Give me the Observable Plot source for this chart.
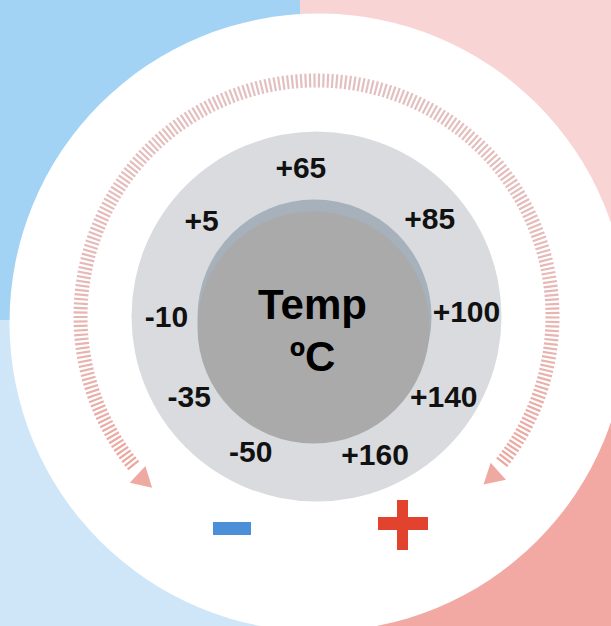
<!DOCTYPE html>
<html><head><meta charset="utf-8">
<script src="https://cdn.jsdelivr.net/npm/d3@7"></script>
<script src="https://cdn.jsdelivr.net/npm/@observablehq/plot@0.6"></script>
<style>html,body{margin:0;padding:0;background:#fff;overflow:hidden}</style>
</head><body><div id="chart"></div>
<script>
// ---- data ----
const labels = ["-50", "-35", "-10", "+5", "+65", "+85", "+100", "+140", "+160"];
const labelAngles = [-154, -122, -90, -50, -6, 49, 88, 122, 157]; // degrees, 0 = top, clockwise
const centerTitle = ["Temp", "ºC"];
const quadrantNames = ["cold-top", "cold-bottom", "hot-top", "hot-bottom"];
const quadrantColors = ["#a2d3f5", "#cfe6f8", "#f8d4d4", "#f2a9a4"];
const arrowAngles = [-133, 132];
const signs = ["−", "+"];

// ---- layout ----
const W = 611, H = 626;
const C = {x: 316, y: 316};
const quadBoxes = [
  {x1: 0, x2: 300, y1: 0, y2: 320},
  {x1: 0, x2: 300, y1: 320, y2: H},
  {x1: 300, x2: W, y1: 0, y2: 320},
  {x1: 300, x2: W, y1: 320, y2: H}
];
const quads = quadrantNames.map((n, i) => ({name: n, color: quadrantColors[i], ...quadBoxes[i]}));
const tickAngles = d3.range(-129, 129.01, 1.08);
const rad = d => d * Math.PI / 180;
const px = (a, r, c = C) => c.x + r * Math.sin(rad(a));
const py = (a, r, c = C) => c.y - r * Math.cos(rad(a));
const tickColor = a => d3.interpolateRgb("#e3c0c0", "#eca69e")(Math.pow(Math.abs(a) / 129, 2.5));

const signBars = [
  {sign: signs[0], x1: 213, x2: 251, y1: 522, y2: 535, color: "#4a8fd7"},
  {sign: signs[1], x1: 378, x2: 428, y1: 517, y2: 530, color: "#e2432f"},
  {sign: signs[1], x1: 397, x2: 408, y1: 500, y2: 550, color: "#e2432f"}
];

const plot = Plot.plot({
  width: W, height: H, margin: 0,
  x: {domain: [0, W], axis: null},
  y: {domain: [0, H], reverse: true, axis: null},
  style: {background: "transparent"},
  marks: [
    Plot.rect(quads, {x1: "x1", x2: "x2", y1: "y1", y2: "y2", fill: "color"}),
    Plot.dot([{x: 318, y: 322}], {x: "x", y: "y", r: 309, fill: "white"}),
    Plot.link(tickAngles, {
      x1: a => px(a, 229), y1: a => py(a, 229),
      x2: a => px(a, 243), y2: a => py(a, 243),
      stroke: tickColor, strokeWidth: 2.2
    }),
    Plot.dot(arrowAngles, {
      x: a => px(a, 238), y: a => py(a, 238),
      symbol: "triangle", r: 8.5, fill: "#eeaaa2", rotate: a => -a
    }),
    Plot.dot([C], {x: "x", y: "y", r: 185, fill: "#d9dbde"}),
    Plot.dot([{x: 314, y: 316}], {x: "x", y: "y", r: 117, fill: "#a6b1bb"}),
    Plot.dot([{x: 313, y: 327}], {x: "x", y: "y", r: 116, fill: "#aaaaaa"}),
    Plot.text(labels, {
      ariaLabel: "dial-labels",
      x: (d, i) => px(labelAngles[i], 150),
      y: (d, i) => py(labelAngles[i], 150) + 1,
      text: d => d, fontSize: 30, fontWeight: "bold",
      fontFamily: "'Liberation Sans', Arial, sans-serif", fill: "#111"
    }),
    Plot.text(centerTitle, {
      x: () => 312, y: (d, i) => 305 + i * 52,
      text: d => d, fontSize: 42, fontWeight: "bold",
      fontFamily: "'Liberation Sans', Arial, sans-serif", fill: "#000"
    }),
    Plot.rect(signBars, {x1: "x1", x2: "x2", y1: "y1", y2: "y2", fill: "color"})
  ]
});
document.getElementById("chart").append(plot);
// condense the dial labels horizontally (narrow typeface look)
d3.select(plot).selectAll('g[aria-label="dial-labels"] text').each(function () {
  const w = this.getComputedTextLength();
  this.setAttribute("textLength", (w * 0.8).toFixed(1));
  this.setAttribute("lengthAdjust", "spacingAndGlyphs");
});
</script>
</body></html>
